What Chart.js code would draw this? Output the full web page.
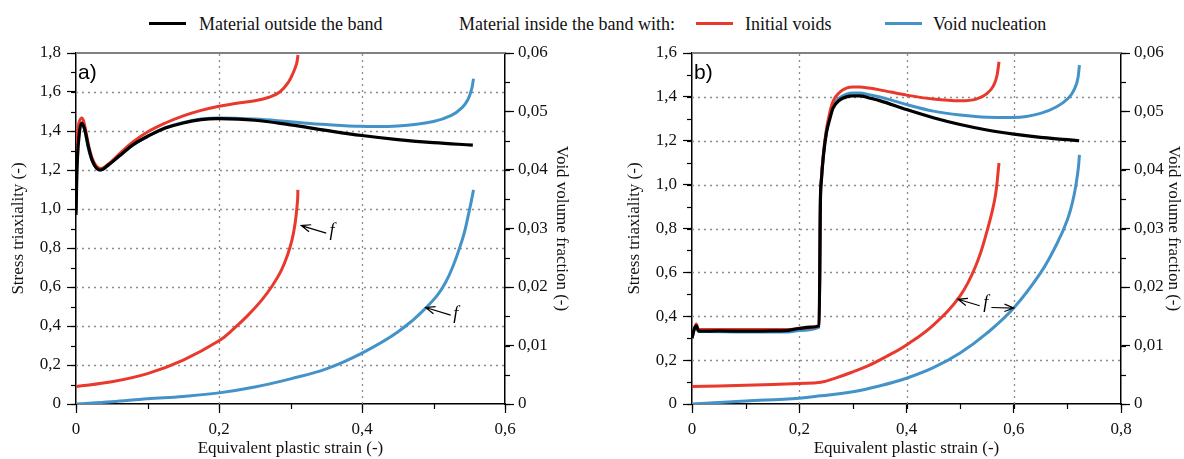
<!DOCTYPE html>
<html>
<head>
<meta charset="utf-8">
<script src="https://cdn.jsdelivr.net/npm/chart.js@4/dist/chart.umd.min.js"></script>
<style>
  body { margin: 0; background: #fff; width: 1184px; height: 459px; position: relative; overflow: hidden; font-family: "Liberation Serif", serif; }
  .panel { position: absolute; top: 0; width: 592px; height: 459px; }
  .lg { position: absolute; top: 15px; font-size: 18px; line-height: 18px; white-space: nowrap; color: #111; }
  .sw { position: absolute; top: 22px; width: 37px; height: 3px; }
</style>
</head>
<body>
<div class="sw" style="left:149px;background:#000"></div>
<div class="lg" style="left:199px">Material outside the band</div>
<div class="lg" style="left:459px">Material inside the band with:</div>
<div class="sw" style="left:696px;background:#e8392c"></div>
<div class="lg" style="left:745px">Initial voids</div>
<div class="sw" style="left:885px;background:#4393c8"></div>
<div class="lg" style="left:933px">Void nucleation</div>
<div class="panel" style="left:0"><canvas id="chartA" width="592" height="459"></canvas></div>
<div class="panel" style="left:592px"><canvas id="chartB" width="592" height="459"></canvas></div>
<script>
// --- panel a) ---
const strainA_black = [0, 0.002, 0.005, 0.008, 0.012, 0.018, 0.025, 0.034, 0.045, 0.06, 0.08, 0.1, 0.125, 0.15, 0.175, 0.2, 0.25, 0.3, 0.35, 0.4, 0.45, 0.5, 0.555];
const triaxA_black  = [0.97, 1.26, 1.40, 1.44, 1.41, 1.31, 1.23, 1.20, 1.225, 1.27, 1.33, 1.372, 1.415, 1.441, 1.458, 1.463, 1.455, 1.431, 1.403, 1.377, 1.356, 1.340, 1.328];
const strainA_red   = [0, 0.003, 0.008, 0.012, 0.018, 0.025, 0.034, 0.045, 0.06, 0.08, 0.1, 0.125, 0.15, 0.175, 0.2, 0.225, 0.25, 0.27, 0.285, 0.297, 0.304, 0.3085, 0.3105];
const triaxA_red    = [1.27, 1.42, 1.467, 1.43, 1.32, 1.24, 1.208, 1.23, 1.28, 1.345, 1.395, 1.441, 1.478, 1.506, 1.527, 1.542, 1.555, 1.573, 1.600, 1.650, 1.70, 1.745, 1.79];
const strainA_blue  = [0, 0.003, 0.008, 0.012, 0.018, 0.025, 0.034, 0.045, 0.06, 0.08, 0.1, 0.125, 0.15, 0.175, 0.2, 0.25, 0.3, 0.35, 0.4, 0.45, 0.5, 0.525, 0.54, 0.548, 0.553, 0.556];
const triaxA_blue   = [1.0, 1.40, 1.44, 1.41, 1.30, 1.23, 1.20, 1.225, 1.27, 1.33, 1.373, 1.417, 1.444, 1.461, 1.467, 1.461, 1.447, 1.433, 1.424, 1.426, 1.449, 1.48, 1.52, 1.56, 1.61, 1.668];
const fStrainA_red  = [0, 0.05, 0.1, 0.15, 0.2, 0.22, 0.24, 0.26, 0.275, 0.287, 0.296, 0.302, 0.306, 0.3085, 0.31, 0.3103];
const fA_red        = [0.003, 0.0038, 0.0052, 0.0075, 0.0108, 0.0128, 0.0151, 0.0178, 0.0203, 0.0228, 0.0255, 0.028, 0.0305, 0.033, 0.035, 0.0366];
const fStrainA_blue = [0, 0.05, 0.1, 0.15, 0.2, 0.25, 0.3, 0.35, 0.4, 0.45, 0.49, 0.517, 0.54, 0.55, 0.556];
const fA_blue       = [0, 0.0004, 0.0009, 0.0013, 0.0019, 0.0029, 0.0043, 0.006, 0.0087, 0.0123, 0.0165, 0.0208, 0.028, 0.033, 0.0366];

// --- panel b) ---
const strainB_black = [0, 0.004, 0.008, 0.012, 0.02, 0.05, 0.1, 0.15, 0.18, 0.2, 0.22, 0.237, 0.2395, 0.2413, 0.245, 0.2506, 0.257, 0.263, 0.275, 0.288, 0.3, 0.313, 0.33, 0.35, 0.4, 0.45, 0.5, 0.55, 0.6, 0.65, 0.7, 0.722];
const triaxB_black  = [0.30, 0.34, 0.356, 0.333, 0.332, 0.333, 0.332, 0.333, 0.336, 0.344, 0.35, 0.356, 0.93, 1.02, 1.13, 1.235, 1.30, 1.349, 1.385, 1.40, 1.405, 1.405, 1.395, 1.383, 1.342, 1.305, 1.274, 1.249, 1.23, 1.215, 1.205, 1.20];
const strainB_red   = [0, 0.004, 0.008, 0.012, 0.02, 0.1, 0.18, 0.2, 0.237, 0.2395, 0.2413, 0.245, 0.2506, 0.257, 0.263, 0.275, 0.288, 0.3, 0.313, 0.33, 0.35, 0.4, 0.45, 0.5, 0.53, 0.55, 0.562, 0.569, 0.5725];
const triaxB_red    = [0.30, 0.34, 0.365, 0.34, 0.34, 0.34, 0.34, 0.345, 0.357, 0.94, 1.03, 1.14, 1.25, 1.33, 1.38, 1.42, 1.44, 1.445, 1.445, 1.44, 1.432, 1.408, 1.39, 1.382, 1.39, 1.415, 1.45, 1.50, 1.56];
const strainB_blue  = [0, 0.004, 0.008, 0.012, 0.02, 0.1, 0.18, 0.2, 0.237, 0.2395, 0.2413, 0.245, 0.2506, 0.257, 0.263, 0.275, 0.288, 0.3, 0.313, 0.33, 0.35, 0.4, 0.45, 0.5, 0.55, 0.6, 0.65, 0.68, 0.7, 0.712, 0.72, 0.7225];
const triaxB_blue   = [0.30, 0.34, 0.35, 0.33, 0.33, 0.328, 0.328, 0.335, 0.35, 0.93, 1.02, 1.13, 1.24, 1.31, 1.36, 1.395, 1.412, 1.418, 1.418, 1.41, 1.40, 1.365, 1.335, 1.317, 1.307, 1.306, 1.325, 1.355, 1.39, 1.43, 1.49, 1.545];
const fStrainB_red  = [0, 0.1, 0.2, 0.24, 0.27, 0.3, 0.33, 0.36, 0.4, 0.45, 0.5, 0.53, 0.55, 0.565, 0.5725];
const fB_red        = [0.003, 0.0032, 0.0035, 0.0037, 0.0045, 0.0055, 0.0066, 0.008, 0.0101, 0.0135, 0.0185, 0.0238, 0.0295, 0.0352, 0.0412];
const fStrainB_blue = [0, 0.1, 0.2, 0.24, 0.3, 0.35, 0.4, 0.45, 0.5, 0.55, 0.6, 0.65, 0.68, 0.7, 0.712, 0.72, 0.7225];
const fB_blue       = [0, 0.0005, 0.001, 0.0014, 0.0021, 0.0031, 0.0044, 0.0062, 0.0087, 0.0121, 0.0164, 0.0224, 0.0273, 0.0315, 0.0355, 0.040, 0.0426];

// "f" arrows, in (strain, void fraction) coordinates
const notesA = [
    { tip: [0.315, 0.0305], tail: [0.350, 0.0292], label: [0.358, 0.0295] },
    { tip: [0.489, 0.0165], tail: [0.524, 0.0152], label: [0.531, 0.0154] }
];
const notesB = [
    { tip: [0.496, 0.0179], tail: [0.5365, 0.0168], label: [0.548, 0.0172] },
    { tip: [0.600, 0.0164], tail: [0.5583, 0.0165], label: null }
];

const RED = '#e8392c', BLUE = '#4393c8', BLACK = '#000';
const SERIF = '"Liberation Serif", "Times New Roman", serif';

function pts(xs, ys) { return xs.map((x, i) => ({ x: x, y: ys[i] })); }
function fmt(dec) { return v => Math.abs(v) < 1e-9 ? '0' : v.toFixed(dec).replace('.', ','); }

// smooth: tension spline; otherwise monotone (keeps the sharp jump in panel b)
function line(data, color, axis, smooth, width) {
    return {
        data: data, yAxisID: axis, borderColor: color, backgroundColor: color,
        borderWidth: width || 3, pointRadius: 0, fill: false,
        cubicInterpolationMode: smooth ? 'default' : 'monotone',
        tension: smooth ? 0.4 : 0
    };
}

const minorTicks = {
    id: 'minorTicks',
    afterDraw(chart, args, o) {
        const ctx = chart.ctx;
        ctx.save();
        ctx.strokeStyle = '#000';
        ctx.lineWidth = 1.2;
        for (const id of Object.keys(o.steps)) {
            const s = chart.scales[id];
            const step = o.steps[id];
            const n = Math.round((s.max - s.min) / step);
            for (let i = 0; i <= n; i++) {
                const p = Math.round(s.getPixelForValue(s.min + i * step)) + 0.5;
                ctx.beginPath();
                if (id === 'x') { ctx.moveTo(p, s.top); ctx.lineTo(p, s.top + 5); }
                else if (s.position === 'left') { ctx.moveTo(s.right, p); ctx.lineTo(s.right - 5, p); }
                else { ctx.moveTo(s.left, p); ctx.lineTo(s.left + 5, p); }
                ctx.stroke();
            }
        }
        ctx.restore();
    }
};

// dotted grid, drawn under the curves
const dotGrid = {
    id: 'dotGrid',
    beforeDatasetsDraw(chart) {
        const { ctx, chartArea: a, scales } = chart;
        ctx.save();
        ctx.strokeStyle = '#8c8c8c';
        ctx.lineWidth = 1.3;
        ctx.setLineDash([2, 4]);
        scales.x.ticks.forEach(t => {
            const p = Math.round(scales.x.getPixelForValue(t.value)) + 0.5;
            if (p <= a.left + 2 || p >= a.right - 2) return;
            ctx.beginPath(); ctx.moveTo(p, a.bottom); ctx.lineTo(p, a.top); ctx.stroke();
        });
        scales.y.ticks.forEach(t => {
            const p = Math.round(scales.y.getPixelForValue(t.value)) + 0.5;
            if (p <= a.top + 2 || p >= a.bottom - 2) return;
            ctx.beginPath(); ctx.moveTo(a.left, p); ctx.lineTo(a.right, p); ctx.stroke();
        });
        ctx.restore();
    }
};

const decor = {
    id: 'decor',
    afterDraw(chart, args, o) {
        const { ctx, chartArea: a, scales } = chart;
        ctx.save();
        ctx.strokeStyle = '#808080';
        ctx.lineWidth = 2;
        ctx.beginPath();
        ctx.moveTo(a.left, a.top);
        ctx.lineTo(a.right, a.top);
        ctx.stroke();

        ctx.fillStyle = '#000';
        ctx.font = '21px "Liberation Sans", Arial, sans-serif';
        ctx.textBaseline = 'alphabetic';
        ctx.textAlign = 'left';
        ctx.fillText(o.tag, a.left + o.tagDx, a.top + 26);

        const X = v => scales.x.getPixelForValue(v);
        const Y = v => scales.y2.getPixelForValue(v);
        ctx.lineWidth = 1.2;
        ctx.strokeStyle = '#000';
        o.notes.forEach(n => {
            const tx = X(n.tip[0]), ty = Y(n.tip[1]);
            const sx = X(n.tail[0]), sy = Y(n.tail[1]);
            const ang = Math.atan2(ty - sy, tx - sx);
            ctx.beginPath();
            ctx.moveTo(sx, sy);
            ctx.lineTo(tx, ty);
            ctx.moveTo(tx - 10 * Math.cos(ang - 0.38), ty - 10 * Math.sin(ang - 0.38));
            ctx.lineTo(tx, ty);
            ctx.lineTo(tx - 10 * Math.cos(ang + 0.38), ty - 10 * Math.sin(ang + 0.38));
            ctx.stroke();
            if (n.label) {
                ctx.font = 'italic 18px ' + SERIF;
                ctx.textAlign = 'center';
                ctx.textBaseline = 'middle';
                ctx.fillText('f', X(n.label[0]), Y(n.label[1]));
            }
        });
        ctx.restore();
    }
};

function makePanel(id, p) {
    const tickFont = { family: SERIF, size: 17 };
    const grid = {
        drawOnChartArea: false, tickColor: '#000', tickLength: 9, tickWidth: 1.2
    };
    const border = { color: '#000', width: 1.5 };
    new Chart(document.getElementById(id), {
        type: 'line',
        data: {
            datasets: [
                line(pts(p.sx[0], p.sy[0]), BLACK, 'y', p.smoothStress, 3.2),
                line(pts(p.sx[1], p.sy[1]), RED, 'y', p.smoothStress),
                line(pts(p.sx[2], p.sy[2]), BLUE, 'y', p.smoothStress),
                line(pts(p.fx[0], p.fy[0]), RED, 'y2', true),
                line(pts(p.fx[1], p.fy[1]), BLUE, 'y2', true)
            ]
        },
        options: {
            responsive: false,
            devicePixelRatio: 1,
            animation: false,
            layout: { padding: { top: 53, left: 0, right: 0, bottom: 0 } },
            plugins: {
                legend: { display: false },
                tooltip: { enabled: false },
                minorTicks: { steps: { x: 0.1, y: 0.1, y2: 0.005 } },
                decor: { tag: p.tag, tagDx: 2, notes: p.notes }
            },
            scales: {
                x: {
                    type: 'linear', position: 'bottom', min: 0, max: p.xMax,
                    afterFit: s => { s.height = 55; },
                    ticks: { stepSize: 0.2, font: tickFont, color: '#111', padding: 6, maxRotation: 0, callback: fmt(1) },
                    grid: grid, border: border,
                    title: { display: true, text: 'Equivalent plastic strain (-)', font: tickFont, color: '#111', padding: { top: 0, bottom: 0 } }
                },
                y: {
                    type: 'linear', position: 'left', min: 0, max: p.yMax,
                    afterFit: s => { s.width = p.leftW; },
                    ticks: { stepSize: 0.2, font: tickFont, color: '#111', padding: 6, callback: fmt(1) },
                    grid: grid, border: border,
                    title: { display: true, text: 'Stress triaxiality (-)', font: tickFont, color: '#111', padding: { top: p.leftPad, bottom: 0 } }
                },
                y2: {
                    type: 'linear', position: 'right', min: 0, max: 0.06,
                    afterFit: s => { s.width = p.rightW; },
                    ticks: { stepSize: 0.01, font: tickFont, color: '#111', padding: 4, callback: fmt(2) },
                    grid: grid, border: border,
                    title: { display: true, text: 'Void volume fraction (-)', font: tickFont, color: '#111', padding: { top: p.rightPad, bottom: 0 } }
                }
            }
        },
        plugins: [dotGrid, minorTicks, decor]
    });
}

makePanel('chartA', {
    tag: 'a)', xMax: 0.6, yMax: 1.8, leftW: 76, rightW: 87, leftPad: 8, rightPad: 20, smoothStress: true,
    sx: [strainA_black, strainA_red, strainA_blue], sy: [triaxA_black, triaxA_red, triaxA_blue],
    fx: [fStrainA_red, fStrainA_blue], fy: [fA_red, fA_blue], notes: notesA
});
makePanel('chartB', {
    tag: 'b)', xMax: 0.8, yMax: 1.6, leftW: 100, rightW: 63, leftPad: 32, rightPad: 0, smoothStress: false,
    sx: [strainB_black, strainB_red, strainB_blue], sy: [triaxB_black, triaxB_red, triaxB_blue],
    fx: [fStrainB_red, fStrainB_blue], fy: [fB_red, fB_blue], notes: notesB
});
</script>
</body>
</html>
